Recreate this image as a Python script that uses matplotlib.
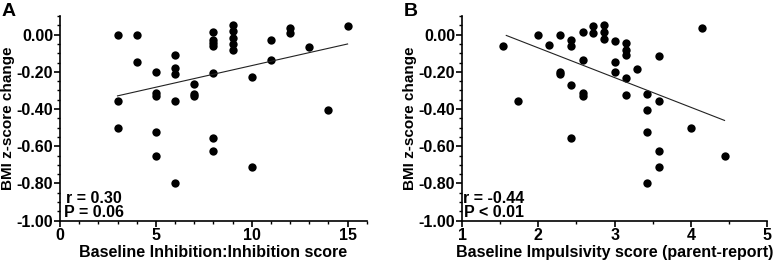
import matplotlib
matplotlib.use("Agg")
import matplotlib.pyplot as plt
from matplotlib.ticker import MultipleLocator, FormatStrFormatter

plt.rcParams["font.family"] = ["Liberation Sans", "DejaVu Sans"]
plt.rcParams["font.weight"] = "bold"

# Panel A: inhibition score vs BMI z-score change
inhib_x = [3, 3, 3, 4, 4, 5, 5, 5, 5, 5, 6, 6, 6, 6, 6, 7, 7, 7,
           8, 8, 8, 8, 8, 8, 8, 9, 9, 9, 9, 9, 10, 10, 11, 11, 12, 12, 13, 14, 15]
inhib_y = [0.00, -0.357, -0.499, 0.00, -0.145,
           -0.199, -0.314, -0.327, -0.524, -0.65,
           -0.111, -0.181, -0.21, -0.357, -0.80,
           -0.266, -0.32, -0.332,
           0.016, -0.03, -0.045, -0.062, -0.205, -0.555, -0.623,
           0.054, 0.018, -0.018, -0.052, -0.084,
           -0.23, -0.709, -0.029, -0.135, 0.036, 0.007, -0.065, -0.406, 0.045]
inhib_fit_x = [3, 15]
inhib_fit_y = [-0.329, -0.05]

# Panel B: impulsivity score vs BMI z-score change
impuls_x = [1.54, 1.74, 2.0, 2.14, 2.29, 2.29, 2.29,
            2.43, 2.43, 2.43, 2.43, 2.58, 2.58, 2.58, 2.58,
            2.72, 2.72, 2.86, 2.86, 2.86, 3.0, 3.0, 3.0,
            3.15, 3.15, 3.15, 3.15, 3.15, 3.29,
            3.43, 3.43, 3.43, 3.43, 3.58, 3.58, 3.58, 3.58, 4.0, 4.15, 4.44]
impuls_y = [-0.063, -0.357, -0.004, -0.057, -0.004, -0.203, -0.212,
            -0.03, -0.063, -0.268, -0.557, 0.016, -0.135, -0.316, -0.332,
            0.045, 0.007, 0.054, 0.016, -0.022, -0.036, -0.145, -0.199,
            -0.047, -0.081, -0.11, -0.232, -0.323, -0.183,
            -0.32, -0.404, -0.524, -0.80, -0.113, -0.359, -0.623, -0.711, -0.50, 0.034, -0.65]
impuls_fit_x = [1.58, 4.44]
impuls_fit_y = [-0.004, -0.461]

fig = plt.figure(figsize=(7.77, 2.68), dpi=100)
ax1 = fig.add_axes([0.0772, 0.1765, 0.3948, 0.7635])
ax2 = fig.add_axes([0.5946, 0.1765, 0.3929, 0.7635])

panels = [
    (ax1, inhib_x, inhib_y, inhib_fit_x, inhib_fit_y, (0, 16), 5, 1,
     "Baseline Inhibition:Inhibition score", "A", "r = 0.30\nP = 0.06", 0.11),
    (ax2, impuls_x, impuls_y, impuls_fit_x, impuls_fit_y, (1, 5), 1, 0.5,
     "Baseline Impulsivity score (parent-report)", "B", "r = -0.44\nP < 0.01", 0.105),
]

for ax, xs, ys, fx, fy, xlim, xmaj, xmin, xlabel, letter, stats, sx in panels:
    ax.plot(xs, ys, "o", color="black", markersize=6, markeredgewidth=0)
    ax.plot(fx, fy, color="#222222", linewidth=0.8)
    ax.set_xlim(*xlim)
    ax.set_ylim(-1.0, 0.1)
    ax.xaxis.set_major_locator(MultipleLocator(xmaj))
    ax.xaxis.set_minor_locator(MultipleLocator(xmin))
    ax.yaxis.set_major_locator(MultipleLocator(0.2))
    ax.yaxis.set_minor_locator(MultipleLocator(0.05))
    ax.yaxis.set_major_formatter(FormatStrFormatter("%.2f"))
    ax.spines["top"].set_visible(False)
    ax.spines["right"].set_visible(False)
    for s in ("left", "bottom"):
        ax.spines[s].set_linewidth(1.2)
    ax.tick_params(which="major", length=4, width=1.2, labelsize=11.5, pad=1)
    ax.tick_params(which="minor", length=2.5, width=1)
    for lab in ax.get_xticklabels() + ax.get_yticklabels():
        lab.set_fontweight("bold")
    ax.set_xlabel(xlabel, fontsize=11.5, fontweight="bold", labelpad=2)
    ax.set_ylabel("BMI z-score change", fontsize=11, fontweight="bold", labelpad=1)
    ax.text(sx, 0.005, stats, transform=ax.transAxes, fontsize=11.5,
            fontweight="bold", ha="center", va="bottom", linespacing=0.9,
            multialignment="center")
    ax.text(-0.19, 1.065, letter, transform=ax.transAxes, fontsize=14,
            fontweight="bold", ha="left", va="top")

fig.savefig("out.png", dpi=100)
